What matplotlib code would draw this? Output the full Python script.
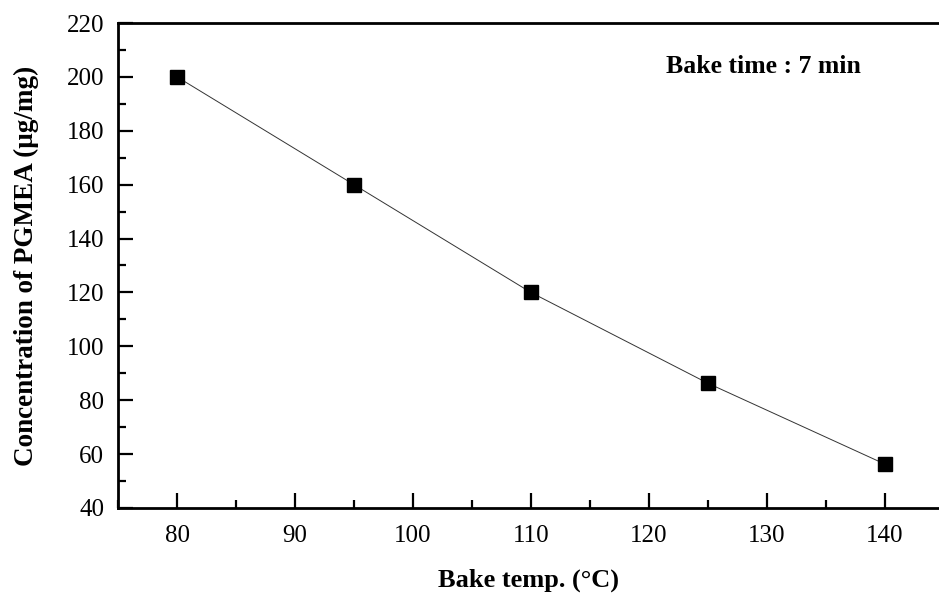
import matplotlib
matplotlib.use("Agg")
import matplotlib.pyplot as plt
from matplotlib.ticker import MultipleLocator

# ── DATA ──────────────────────────────────────────────────────────────────────
bake_temp = [80, 95, 110, 125, 140]
concentration = [200, 160, 120, 86.3, 56.3]

plt.rcParams['font.family'] = ['Liberation Serif', 'DejaVu Serif']

fig = plt.figure(figsize=(9.39, 5.99), dpi=100)
ax = fig.add_axes([0.1257, 0.152, 0.8743, 0.8096])

ax.plot(bake_temp, concentration, color='#333333', linewidth=0.7,
        marker='s', markersize=9.5, markerfacecolor='black',
        markeredgecolor='black')

ax.set_xlim(75, 144.6)
ax.set_ylim(40, 220)
ax.xaxis.set_major_locator(MultipleLocator(10))
ax.xaxis.set_minor_locator(MultipleLocator(5))
ax.yaxis.set_major_locator(MultipleLocator(20))
ax.yaxis.set_minor_locator(MultipleLocator(10))

ax.tick_params(which='both', direction='in', width=1.6, labelsize=18,
               top=False, right=False)
ax.tick_params(which='major', length=11, pad=12)
ax.tick_params(axis='y', which='major', pad=10)
ax.tick_params(which='minor', length=6)

for side in ['left', 'bottom', 'top']:
    ax.spines[side].set_linewidth(2)
ax.spines['right'].set_visible(False)

ax.set_xlabel('Bake temp. (°C)', fontsize=19, fontweight='bold', labelpad=16)
ax.set_ylabel('Concentration of PGMEA (μg/mg)', fontsize=19.5,
              fontweight='bold', labelpad=20)

ax.text(0.786, 0.91, 'Bake time : 7 min', transform=ax.transAxes,
        fontsize=18.5, fontweight='bold', ha='center', va='center')

fig.savefig('out.png', dpi=100)
